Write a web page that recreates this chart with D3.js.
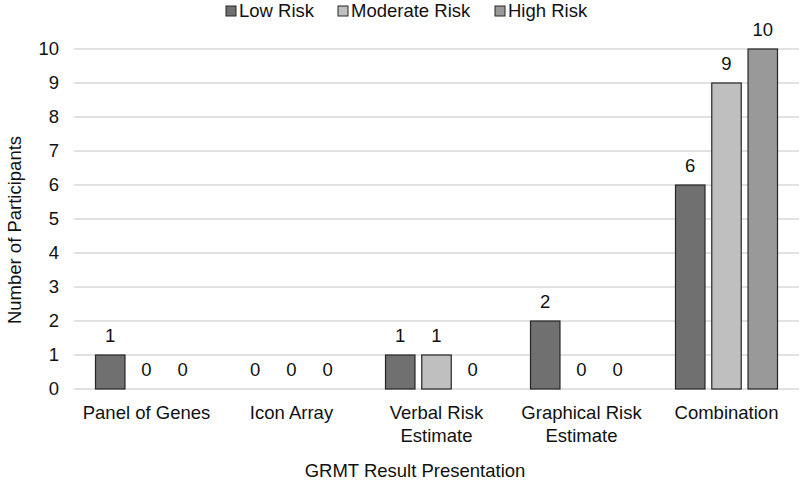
<!DOCTYPE html>
<html><head><meta charset="utf-8">
<script src="https://cdn.jsdelivr.net/npm/d3@7"></script>
<style>body{margin:0;background:#fff}text{font-family:"Liberation Sans",Arial,sans-serif;fill:#111}</style>
</head><body><svg id="c" width="800" height="489"></svg>
<script>
const categories = [["Panel of Genes"],["Icon Array"],["Verbal Risk","Estimate"],["Graphical Risk","Estimate"],["Combination"]];
const seriesNames = ["Low Risk","Moderate Risk","High Risk"];
const lowRisk = [1,0,1,2,6];
const moderateRisk = [0,0,1,0,9];
const highRisk = [0,0,0,0,10];
const yTicks = [0,1,2,3,4,5,6,7,8,9,10];
const colors = ["#707070","#bfbfbf","#999999"];
const series = [lowRisk, moderateRisk, highRisk];

(function(){
const FS = "18.5px";
const svg = d3.select("#c");
const mLeft = 74, mRight = 799, mTop = 49, mBottom = 389;
const x0 = d3.scaleBand().domain(d3.range(categories.length)).range([mLeft,mRight]).padding(0);
const x1 = d3.scaleBand().domain(d3.range(3)).range([21.5, x0.bandwidth()-21.5]).paddingInner(0.187);
const y = d3.scaleLinear().domain([0,10]).range([mBottom, mTop]);

svg.append("g").selectAll("line").data(yTicks).join("line")
  .attr("x1", mLeft).attr("x2", mRight)
  .attr("y1", d=>y(d)).attr("y2", d=>y(d))
  .attr("stroke", "#d9d9d9").attr("stroke-width", 1.3);

const ya = svg.append("g").attr("transform", `translate(${mLeft},0)`)
  .call(d3.axisLeft(y).tickValues(yTicks).tickSize(0).tickPadding(15));
ya.select(".domain").remove();
ya.selectAll("text").style("font-size",FS).attr("fill","#111").attr("font-family","Liberation Sans, Arial, sans-serif");

const groups = svg.append("g").selectAll("g").data(categories).join("g")
  .attr("transform",(d,i)=>`translate(${x0(i)},0)`);
groups.each(function(c, i){
  const g = d3.select(this);
  series.forEach((s, k) => {
    const v = s[i];
    if (v > 0) {
      g.append("rect").attr("x", x1(k)).attr("width", x1.bandwidth())
        .attr("y", y(v)).attr("height", y(0)-y(v))
        .attr("fill", colors[k]).attr("stroke", "#262626").attr("stroke-width", 1.2);
    }
    g.append("text").attr("x", x1(k)+x1.bandwidth()/2).attr("y", y(v)-13)
      .attr("text-anchor","middle").style("font-size",FS).text(v);
  });
  const t = g.append("text").attr("x", x0.bandwidth()/2).attr("y", 419)
    .attr("text-anchor","middle").style("font-size",FS);
  c.forEach((line, j) => t.append("tspan").attr("x", x0.bandwidth()/2).attr("dy", j===0?0:22.7).text(line));
});

svg.append("text").attr("x", 415).attr("y", 476.5).attr("text-anchor","middle")
  .style("font-size",FS).text("GRMT Result Presentation");
svg.append("text").attr("transform","translate(21,230) rotate(-90)").attr("text-anchor","middle")
  .style("font-size",FS).text("Number of Participants");

const legX = [226, 338, 495];
const leg = svg.append("g");
seriesNames.forEach((n, k) => {
  leg.append("rect").attr("x", legX[k]).attr("y", 6).attr("width", 10).attr("height", 10)
    .attr("fill", colors[k]).attr("stroke", "#262626").attr("stroke-width", 1);
  leg.append("text").attr("x", legX[k]+13).attr("y", 17).style("font-size",FS).text(n);
});
})();
</script></body></html>
